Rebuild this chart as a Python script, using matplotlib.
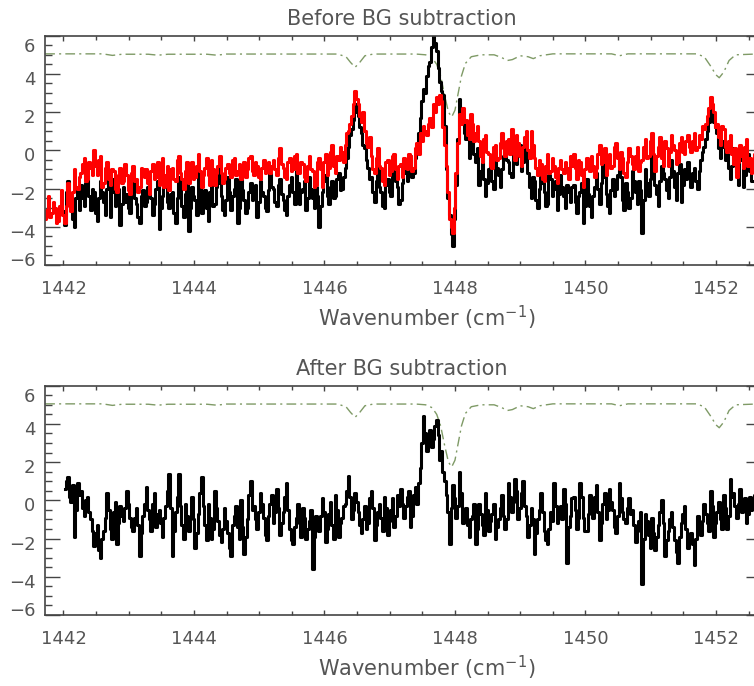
import numpy as np
import matplotlib
matplotlib.use('Agg')
import matplotlib.pyplot as plt
from matplotlib.ticker import MultipleLocator
from matplotlib.transforms import ScaledTranslation

# spectra sampled every 0.025 cm^-1
STEP = 0.025
red_start = 1441.72
raw_start = 1441.97
sub_start = 1442.02

# spectrum before BG subtraction (red)
red_before = [
    -3.6, -3.1, -2.4, -3.5, -3.3, -2.7, -3.0, -3.8, -3.7, -2.9, -2.1, -3.4,
    -3.8, -2.9, -1.7, -2.6, -3.2, -2.2, -1.0, -1.9,
    -2.0, -1.4, -1.2, -0.7, -0.4, -1.6, -1.5, -0.6, -0.9, -1.3, 0.0, -0.8, -1.3, -0.5, -0.3, -1.9, -1.7, -0.9,
    -0.6, -1.5, -1.8, -1.0, -1.1, -2.0, -2.2, -1.3, -0.9, -1.7, -1.6, -0.7,
    -1.3, -2.1, -2.3, -1.2, -0.8, -1.6, -1.5, -2.2, -1.9, -0.9, -1.0, -1.4,
    -1.0, -1.7, -2.3, -1.1, -0.7, -1.5, -1.4, -0.6, -1.8, -1.2, -0.4, -1.9, -1.3,
    -0.8, -2.1, -1.0, -0.9, -1.5, -1.6, -0.5, -0.3, -1.2, -1.5, -2.0, -1.1, -0.6,
    -1.7, -1.0, -0.6, -1.5, -1.4, -0.8, -0.2, -1.1, -1.9, -1.3, -0.9, -0.4,
    -1.3, -1.8, -0.5, -1.0, -1.8, -1.2, -0.8, -0.3, -1.2, -1.7, -1.5, -0.9,
    -0.7, -1.2, -1.4, -0.5, -0.4, -1.3, -1.1, -0.7, -1.5, -0.9, -0.6, -1.4, -1.0, -0.4,
    -0.3, -1.1, -1.3, -0.6, -0.8, -1.4, -1.5, -0.9, -0.5, -1.2, -1.0, -0.6, -1.2, -0.8,
    -0.5, -1.0, -1.3, -0.4, 0.1, -0.7, -0.9, -1.4, -1.5, -0.6, -0.4, -1.1, -1.0, -0.3,
    -0.2, -1.2, -1.2, -0.6, -0.7, -1.4, -1.6, -0.8, -0.3, -1.0, -1.1, -1.9, -1.8, -0.6,
    -0.4, -1.0, -1.9, -0.6, -0.2, -1.3, -0.9, -0.1, 0.3, -0.8, -1.2, -0.3, -0.5, 0.2, -0.1, -0.6,
    0.3, 0.9, 1.0, 1.4, 1.8, 2.4, 3.1, 2.7, 2.4, 1.8, 1.5, 2.0, 1.0, 0.4, 0.2, 0.7,
    -0.3, -1.0, -1.2, -0.4, 0.1, -0.8, -0.9, -1.6, -1.8, -0.6,
    -0.5, -1.3, -1.1, -0.3, -0.2, -1.0, -1.5, -0.8, -0.7, -1.4,
    -0.4, -0.9, -1.0, -0.2, -0.3, -1.1, -0.9, 0.1, 0.4, -0.2,
    0.9, 0.5, 1.3, 1.0, 0.8, 1.4, 1.7, 1.2, 2.4, 2.0, 2.8, 2.4, 2.9, 2.6,
    1.2, 0.3, -0.8, -2.2, -3.6, -4.0, -4.3, -3.0, -1.2, 0.4, 1.9, 1.4, 2.2, 1.5,
    1.6, 0.8, 0.6, 1.9, 1.4, 0.5, 0.9, 1.3,
    0.5, -0.3, -0.6, 0.6, 0.8, -0.1, -0.2, -0.8, -0.9, 0.2, 0.3, -0.5, -0.4, 0.4,
    0.9, 0.1, -0.3, 0.5, 0.6, -0.2, 1.1, 0.3, -0.5, 0.8,
    0.4, -0.3, -0.8, 0.2, 0.7, 1.0, 0.0, -0.4, 1.0, 0.3,
    -0.4, -0.9, -1.3, -0.5, -0.7, -1.5, -1.6, -0.8, -0.2, -1.2, -1.1, -0.4,
    -0.8, -1.4, -1.7, -0.9, -0.5, -1.0, -1.2, -0.6, -0.9, -1.5, -0.3, -0.8,
    -0.2, -0.9, -1.5, -0.5, -0.6, -1.3, -1.9, -1.0, -0.4, -0.8, -1.1, -0.3, -0.8, -1.4,
    -0.9, -0.2, 0.3, -0.7, -0.6, 0.1, -1.3, -0.5, -0.2, -0.9, -0.8, 0.2, 0.4, -0.4,
    -1.0, -0.1, -0.4, -1.2, -1.4, -0.6, 0.1, -0.3, -0.7, -1.0, -0.3, 0.2, -1.1, -0.6,
    -0.5, 0.2, 0.6, -0.4, -0.3, 0.5, 0.9, -0.2, -1.1, -0.3, 0.2, 0.7, -0.4, -0.8,
    0.5, 0.1, -0.8, -0.1, 0.8, 0.3, 0.0, -0.7, -0.6, 0.4, 0.7, -0.1, -0.2, 0.5,
    0.8, 0.2, -0.1, 0.5, 0.9, 0.0, 0.2, 0.8, 0.6, 1.3, 1.1, 1.4,
    1.8, 2.2, 2.8, 2.4, 2.0, 1.2, 1.4, 0.7, 0.3, 1.3, 1.1, 0.2, -0.1, 0.5,
    0.8, -0.2, -0.7, 0.1, -1.4, -0.6, 0.3, -0.3, -0.9, 0.2, 0.6, -0.8, -0.4, -1.2, -1.0, -0.2,
]

# spectrum before BG subtraction (black)
black_before = [
    -2.6, -3.2, -3.9, -2.2, -1.6, -2.8, -3.0, -3.6, -4.0, -2.5, -2.0, -3.1,
    -1.8, -2.5, -2.9, -1.7, -1.3, -2.4, -3.1, -2.0, -2.2, -3.3, -3.7, -2.5, -1.6, -2.2, -2.7, -3.4, -2.0, -1.5,
    -3.5, -2.2, -1.5, -2.9, -2.6, -2.0, -3.9, -2.8, -1.9, -2.7, -2.3,
    -3.0, -3.3, -1.8, -1.4, -2.5, -2.8, -3.5, -3.8, -2.4, -2.1, -2.9,
    -2.7, -1.9, -1.3, -2.5, -3.4, -2.8, -2.0, -1.6, -4.1, -3.0, -2.4, -1.8, -1.6,
    -2.7, -3.0, -2.3, -2.2, -3.3, -3.8, -2.5, -1.4, -2.1, -2.9, -3.5, -2.3, -1.7,
    -4.2, -3.0, -1.9, -2.4, -2.6, -3.4, -1.0, -1.8, -3.3, -2.5, -2.1, -3.0,
    -3.7, -2.2, -1.6, -2.9, -2.8, -1.9, -0.9, -1.7, -2.4, -3.1, -3.4, -2.6,
    -1.4, -2.2, -3.1, -2.4, -2.0, -1.5, -3.8, -3.0, -1.2, -2.1,
    -2.6, -3.3, -3.0, -2.2, -1.7, -2.6, -2.5, -1.8, -3.5, -2.7,
    -1.6, -2.2, -2.4, -3.0, -3.2, -2.1, -1.2, -1.9, -2.0, -2.7, -2.9, -1.8,
    -1.5, -2.3, -2.6, -3.1, -3.4, -2.4, -1.8, -1.4, -2.2, -2.8, -1.1, -1.7,
    -2.8, -2.2, -2.0, -1.6, -3.1, -2.5, -1.4, -2.0, -2.5, -3.0, -1.9, -2.4,
    -4.0, -2.9,
    -2.2, -1.6, -1.3, -2.4, -2.8, -1.9, -1.6, -2.5, -2.4, -1.5, -1.2, -2.1, -2.0, -1.4,
    -0.9, -0.4, 0.2, 0.8, 1.1, 1.6, 2.4, 2.0, 1.8, 1.2, 0.9, 0.3, 0.1, -0.5, -0.9, -1.5,
    -1.4, -2.2, -2.7, -1.6, -0.8, -1.9, -2.2, -2.9, -3.0, -1.8,
    -1.5, -2.2, -2.4, -1.3, -0.7, -1.6, -1.9, -2.8, -2.6, -1.7,
    -0.5, -1.2, -1.6, -0.8, -0.3, -1.4, -1.2, -0.4, 0.3, 0.9,
    1.7, 2.6, 3.2, 3.0, 3.9, 4.4, 4.6, 5.4, 6.0, 5.6, 5.2, 4.3, 3.6, 3.1,
    2.9, 1.3, -1.0, -2.5, -3.4, -4.4, -5.0, -3.6, -1.8, 0.6, 2.7, 2.2, 1.5, 0.9,
    0.6, 1.0, -0.4, 0.2, 0.5, -0.2, -0.6, 0.1,
    -1.8, -1.1, -0.4, -1.5, -2.4, -1.7, -1.0, -0.6, -1.6, -2.0, -0.3, -0.9, -1.3, -1.9,
    -1.0, -0.3, 0.4, -0.5, -0.6, -1.2, -1.4, -0.2, 0.2, -0.7, -0.3, 0.3, -1.1, -0.6, 0.5, -0.4,
    -1.2, -1.9, -2.5, -1.4, -1.6, -2.6, -3.0, -2.0, -1.0, -1.7, -2.2, -2.9, -2.8, -1.3,
    -1.5, -2.4, -2.0, -1.6, -3.1, -2.3, -1.3, -1.9, -2.4, -3.0, -1.8, -2.2, -2.7, -1.9,
    -1.8, -2.7, -3.3, -2.4, -2.2, -1.7, -3.8, -2.9, -1.5, -2.3, -2.9, -3.5, -2.4, -1.9,
    -1.2, -2.0, -2.8, -1.7, -0.6, -1.4, -2.3, -2.9, -3.3, -2.1, -1.5, -2.4, -2.0, -1.3,
    -0.2, -1.4, -2.6, -3.1, -1.7, -2.2, -3.0, -2.5, -1.1, -1.6, -2.2, -2.8, -1.6, -2.1,
    -4.3, -2.6,
    -1.0, -1.7, -2.4, -1.5, -0.3, -0.9, -1.8, -2.3, -2.9, -1.6, -0.8, -1.2, -1.5,
    -2.1, -2.5, -1.4, -0.5, -1.1, -1.9, -2.6, -1.2, -0.7, -2.7, -1.8, -1.0, -1.5,
    -0.6, -1.3, -1.9, -1.2, -0.9, -1.6, -2.0, -1.1, -0.5, -0.1,
    0.2, 0.6, 1.0, 1.5, 2.1, 1.8, 1.5, 1.2, 0.9, 0.1, -0.4, 0.2, 0.5, -0.5, -0.2, -0.9,
    -1.5, -0.8, 0.1, -0.6, -1.2, -1.8, -0.5, -0.2, -1.9, -1.3, -0.6, -0.2, -1.1, -1.6,
]

# spectrum after BG subtraction
black_after = [
    0.6, 1.0, 1.2, 0.2, -0.1, 0.8, -1.9, -0.5, 0.9, 0.3,
    0.5, -0.4, -0.8, 0.0, 0.2, -0.6, -1.0, -1.6,
    -2.4, -1.7, -1.3, -2.6, -3.0, -2.0, -1.6, -0.9,
    0.4, -0.5, -1.5, -2.0, -0.6, -0.1, -2.3, -1.2, -0.3, -0.8, -1.1, -0.4, 0.5, -0.2, -0.9, -1.4,
    -1.6, -0.9, -0.4, -1.3, -2.9, -1.7, -0.8, -0.2, 0.7, -0.5, -1.0, -1.6, -0.2, 0.4, -1.4, -0.7, -0.5,
    -1.2, -1.9, -0.9, -0.3, 0.5, 1.4, -0.4, -2.9, -1.6, -0.6, 0.2, 1.4, -0.3, -1.3, -2.0, -0.2, -0.8,
    -1.6, -0.9, 0.2, -1.0, -2.5, -1.7, -0.7, 0.4, 1.2, -0.3, -1.3, -2.1, -0.2, -0.9, -2.0, -1.5, 0.5, -0.4, -1.1, -1.8,
    -2.2, -1.5, -0.4, -1.1, -1.7, -2.5, -2.9, -1.3, -0.8, -0.3, -1.4, -2.0,
    0.0, -1.4, -2.8, -1.9, -1.0, 0.3, 1.0, -0.5,
    -0.3, -1.0, -1.5, -0.6, 0.4, -0.2, -0.9, -1.8, -2.1, -0.8, -0.2, 0.3, -1.2, -0.6, 0.6, -0.4,
    -1.8, -1.2, -0.6, 0.2, 0.9, -0.5, -1.5, -2.1, -2.3, -1.4, -0.9, -0.2,
    -1.2, -1.9, -0.4, -0.9, -2.0, -1.5, -1.1, -0.5, -3.6, -1.9, -0.8, -1.4,
    -1.6, -0.8, 0.1, -0.6, -2.2, -1.5, -0.7, -0.1, -1.3, -2.0, 0.3, -0.5, -1.9, -1.2, -0.9, -0.3,
    -0.2, 0.5, 1.3, 0.2, -1.0, -0.5, 0.4, -0.1, -0.6, -1.3,
    -1.7, -1.0, -0.3, -1.5, -1.2, 0.1, 0.5, -0.4, -2.1, -1.3, -0.6, -0.2,
    -0.9, -1.6, 0.2, -0.4, -1.8, -1.1, -0.5, 0.1, -1.4, -0.8, 0.3, -0.3,
    0.6, -0.2, -0.9, -0.3, 0.2, 0.5, -1.4, -0.8, 0.3, 0.7, -0.2, 0.9,
    1.7, 3.0, 4.4, 3.5, 2.6, 3.3, 3.7, 2.8, 3.2, 3.9, 4.2, 3.4, 2.1, 2.6,
    1.5, 1.0, 0.3, -0.6, -2.3, -0.4, 0.8, 0.1, -0.9, -0.3, 1.5, 0.4, -1.2, -0.5,
    -0.4, -1.3, -1.9, -1.0, -0.8, -0.2, -2.3, -1.5, -0.2, -0.7, -1.3, -1.8, 0.4,
    -0.5, -1.6, -1.1, -0.7, -0.2, -2.0, -1.4, -1.0, -0.4, 0.3, -0.8, -1.5, -1.0,
    0.9, 0.2, -0.6, -0.1, 1.1, 0.5, -1.0, -0.4, 0.4, 1.0, -0.3, -0.8,
    -1.9, -1.3, -0.4, -1.0, -2.8, -1.7, -1.0, -0.5, 0.4, -0.6, -1.6, -2.1, -2.3, -1.5, -0.6, -1.1,
    0.9, -0.3, -1.2, -0.6, -0.3, -1.0, 0.6, -0.2, -3.3, -1.4,
    -0.8, 0.1, 0.2, -0.5, -1.5, -0.9, 0.9, 0.2, -0.9, -1.6,
    -1.6, -0.7, 0.3, -0.3, -0.9, 0.2, 0.8, -0.6, -2.1, -1.2, -0.2, 0.4, -1.0, -0.5,
    0.6, -0.1, -0.5, -1.4, -1.7, -0.8, 0.9, 0.1, -0.6, -1.0, -1.2, -0.4, 0.1, -0.7,
    -0.5, -1.3, -2.2, -1.6, -1.1, -0.6, -4.4, -2.0, -0.7, -1.1, -1.8, -2.5,
    -0.9, -1.7, -2.6, -1.9, -1.3, -0.6, 0.0, -1.2, -2.9, -2.1, -1.6, -1.0, -0.6, -1.4, -2.1,
    -2.7, -3.3, -1.9, -1.2, -0.7, -0.3, -1.5, -2.5, -1.8, -1.7, -2.3, -3.4, -2.0, -0.8, -1.3,
    -1.8, -1.1, -0.2, -0.7, -1.2, -1.6, 0.5, -0.3, -1.9, -1.2,
    -0.6, -0.1, -1.0, -1.5, 0.3, -0.4, -1.5, -0.8, 1.1, 0.2,
    0.4, -0.3, -0.9, -0.2, 0.6, -0.6, -0.5, 0.1, -1.2, -0.7, 0.2, -0.5, -0.3, 0.3,
]

# scaled atmospheric transmission overlay
trans_wn = [1441.72, 1442.6, 1442.75, 1442.9, 1443.3, 1443.45, 1443.6, 1444.2,
            1444.35, 1444.5, 1446.2, 1446.33, 1446.4, 1446.47, 1446.54, 1446.62,
            1446.75, 1447.4, 1447.55, 1447.65, 1447.72, 1447.78, 1447.84, 1447.9,
            1447.95, 1448.0, 1448.05, 1448.1, 1448.16, 1448.25, 1448.4, 1448.6,
            1448.72, 1448.8, 1448.88, 1449.0, 1449.12, 1449.2, 1449.3, 1449.5,
            1450.4, 1450.52, 1450.65, 1451.7, 1451.82, 1451.92, 1452.0, 1452.05,
            1452.12, 1452.2, 1452.3, 1452.69]
trans_val = [5.05, 5.05, 4.97, 5.03, 5.03, 4.98, 5.03, 5.03,
             4.98, 5.04, 5.04, 4.9, 4.6, 4.35, 4.6, 4.95,
             5.04, 5.04, 5.0, 4.85, 4.5, 3.9, 2.9, 2.0,
             1.75, 2.1, 3.0, 3.9, 4.55, 4.9, 5.0, 5.0,
             4.85, 4.7, 4.75, 4.95, 4.9, 4.8, 4.95, 5.05,
             5.05, 4.95, 5.05, 5.05, 4.9, 4.4, 3.95, 3.8,
             4.1, 4.7, 5.0, 5.05]

titles = ['Before BG subtraction', 'After BG subtraction']
y_ticks = [-6, -4, -2, 0, 2, 4, 6]
x_ticks = [1442, 1444, 1446, 1448, 1450, 1452]


def grid(start, values):
    return start + STEP * np.arange(len(values))


GREY = '#555555'
SPINE = '#444444'
TRANS_COL = '#7f9a66'

plt.rcParams['font.family'] = ['DejaVu Sans']
plt.rcParams['mathtext.default'] = 'regular'

fig = plt.figure(figsize=(7.54, 6.86), dpi=100)
W, H = 754.0, 686.0
left, right = 45, 761
panels = [(35.7, 265.0), (385.7, 615.0)]
axes = []
for top, bot in panels:
    ax = fig.add_axes([left / W, 1 - bot / H, (right - left) / W, (bot - top) / H])
    axes.append(ax)

for ax, title in zip(axes, titles):
    ax.plot(trans_wn, trans_val, color=TRANS_COL, lw=1.0,
            linestyle=(0, (7, 3, 1.5, 3)))
    ax.set_xlim(1441.717, 1452.69)
    ax.set_ylim(-6, 6)
    ax.set_xticks(x_ticks)
    ax.set_yticks(y_ticks)
    ax.set_yticklabels(['\u2212' + str(-v) if v < 0 else str(v) for v in y_ticks])
    ax.xaxis.set_minor_locator(MultipleLocator(0.5))
    ax.yaxis.set_minor_locator(MultipleLocator(0.5))
    ax.tick_params(axis='both', which='both', direction='in', top=True, right=True,
                   colors=SPINE, labelcolor=GREY, labelsize=13, width=1.0)
    ax.tick_params(axis='y', which='major', length=10.5, pad=7)
    ax.tick_params(axis='y', which='minor', length=5.2)
    ax.tick_params(axis='x', which='major', length=3.6, pad=11)
    ax.tick_params(axis='x', which='minor', length=3.0)
    for s in ax.spines.values():
        s.set_color(SPINE)
        s.set_linewidth(1.2)
    # nudge y labels down like the original plotting package
    shifts = {6: -9, -6: 6}
    for v, lab in zip(y_ticks, ax.get_yticklabels()):
        dy = shifts.get(v, -4) / 100.0
        lab.set_transform(lab.get_transform() + ScaledTranslation(0, dy, fig.dpi_scale_trans))
    ax.set_xlabel('Wavenumber (cm$^{-1}$)', fontsize=15, color=GREY)
    ax.xaxis.label.set_va('center')
    ax.xaxis.set_label_coords((427 - left) / (right - left), -53 / 229.3)
    ax.set_title(title, fontsize=15, color=GREY, pad=8)
    ax.title.set_position(((402 - left) / (right - left), 1.0))

# histogram-style traces
ax1, ax2 = axes
ax1.plot(grid(raw_start, black_before), black_before, color='black', lw=2.2,
         drawstyle='steps-mid')
ax1.plot(grid(red_start, red_before), red_before, color='#ff0000', lw=2.2,
         drawstyle='steps-mid')
ax2.plot(grid(sub_start, black_after), black_after, color='black', lw=2.2,
         drawstyle='steps-mid')

fig.savefig('out.png', dpi=100)
